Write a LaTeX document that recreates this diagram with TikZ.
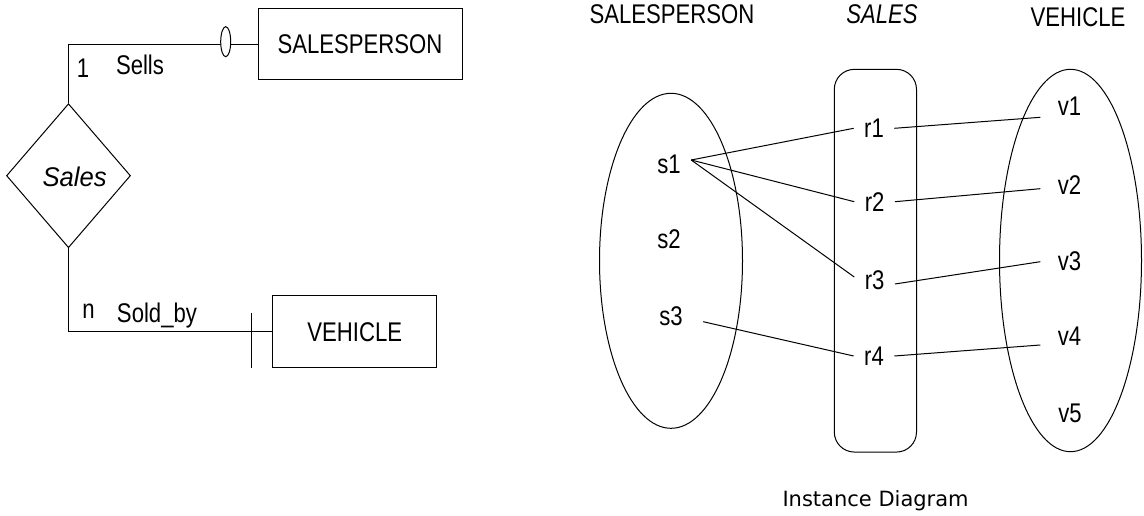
\documentclass[tikz,border=0pt]{standalone}
\usepackage{fontspec}
\usetikzlibrary{shapes.geometric}
\newfontfamily\labfont[FakeStretch=0.82]{Liberation Sans}
\newfontfamily\labwide[FakeStretch=0.95]{Liberation Sans}
\newfontfamily\capfont{DejaVu Sans}
\begin{document}
\begin{tikzpicture}[x=1pt,y=-1pt,line width=1pt,
  txt/.style={inner sep=0pt,font=\labfont\fontsize{27}{30}\selectfont},
  itxt/.style={inner sep=0pt,font=\labfont\itshape\fontsize{27}{30}\selectfont},
  entbox/.style={draw,rectangle,inner sep=0pt,font=\labfont\fontsize{27}{30}\selectfont},
  lbl/.style={txt,inner xsep=10pt,inner ysep=0pt},
  vlbl/.style={txt,inner xsep=17pt,inner ysep=0pt},
  setshape/.style={draw,ellipse,inner sep=0pt},
  link/.style={draw,line width=1pt}]
\useasboundingbox (0,0) rectangle (1144,516);
\fill[white] (0,0) rectangle (1144,516);

% ---------- ER diagram (left) ----------
\node[entbox,minimum width=204pt,minimum height=71pt] (spbox) at (360,44.5) {SALESPERSON};
\node[entbox,minimum width=163.7pt,minimum height=72.3pt] (vbox) at (354.8,331.8) {VEHICLE};
\node[draw,diamond,inner sep=0pt,minimum width=124pt,minimum height=144pt] (rel) at (68.5,175.7) {};
\node[anchor=base,inner sep=0pt,font=\labwide\itshape\fontsize{27}{30}\selectfont] (reltxt) at (74.7,186) {Sales};
\coordinate (c1) at (68.5,44.5);
\coordinate (c2) at (68.5,331.8);
\draw[link] (spbox.west) -- (c1) -- (rel.north);
\draw[link] (rel.south) -- (c2) -- (vbox.west);
\node[draw,ellipse,fill=white,inner sep=0pt,minimum width=10pt,minimum height=30pt] (oval) at (225.7,41.7) {};
\coordinate (bartop) at (251,313.3);
\coordinate (barbot) at (251,368);
\draw[link] (bartop) -- (barbot);
\node[txt,anchor=base] (one) at (83,77.3) {1};
\node[txt,anchor=base] (sells) at (140,75) {Sells};
\node[txt,anchor=base] (enn) at (88.5,318.3) {n};
\node[txt,anchor=base] (soldby) at (157,322.7) {Sold\_by};

% ---------- Instance diagram (right) ----------
\node[txt,anchor=base] (tsp) at (672,24) {SALESPERSON};
\node[itxt,anchor=base] (tsales) at (882,24) {SALES};
\node[txt,anchor=base] (tveh) at (1078,27) {VEHICLE};

\node[setshape,minimum width=143pt,minimum height=335pt] (spset) at (671,260.8) {};
\node[draw,rectangle,rounded corners=20pt,inner sep=0pt,minimum width=82.2pt,minimum height=382.7pt] (salesset) at (875.4,260.7) {};
\node[setshape,minimum width=142pt,minimum height=382.4pt] (vset) at (1070.5,260.5) {};

\node[lbl] (s1) at (669,164) {s1};
\node[lbl] (s2) at (669,239.5) {s2};
\node[lbl] (s3) at (671,316.7) {s3};
\node[lbl] (r1) at (874,128.3) {r1};
\node[lbl] (r2) at (874.6,201.7) {r2};
\node[lbl] (r3) at (874.6,280) {r3};
\node[lbl] (r4) at (874,356) {r4};
\node[vlbl] (v1) at (1069.5,106.7) {v1};
\node[vlbl] (v2) at (1069.5,185) {v2};
\node[vlbl] (v3) at (1069.5,261.7) {v3};
\node[vlbl] (v4) at (1069.5,336.7) {v4};
\node[vlbl] (v5) at (1070,413) {v5};

\draw[link] ([yshift=4pt]s1.east) -- (r1.west);
\draw[link] ([yshift=4pt]s1.east) -- (r2.west);
\draw[link] ([yshift=4pt]s1.east) -- ([yshift=3pt]r3.west);
\draw[link] ([xshift=10pt,yshift=-5pt]s3.east) -- (r4.west);
\draw[link] (r1.east) -- ([yshift=-10.6pt]v1.west);
\draw[link] (r2.east) -- ([yshift=-3.7pt]v2.west);
\draw[link] ([yshift=-4pt]r3.east) -- (v3.west);
\draw[link] (r4.east) -- ([yshift=-8.3pt]v4.west);

\node[anchor=base,inner sep=0pt,font=\capfont\fontsize{21}{24}\selectfont] (caption) at (875.6,506) {Instance Diagram};
\end{tikzpicture}
\end{document}
